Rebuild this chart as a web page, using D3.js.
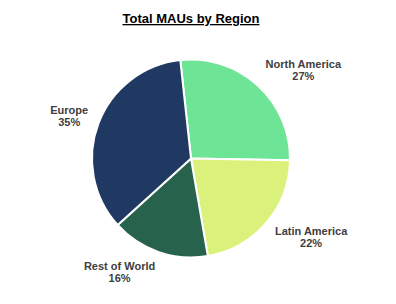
<!DOCTYPE html>
<html>
<head>
<meta charset="utf-8">
<script src="https://cdnjs.cloudflare.com/ajax/libs/d3/7.8.5/d3.min.js"></script>
<style>
  html, body { margin: 0; padding: 0; background: #fff; }
  svg { display: block; font-family: "Liberation Sans", Arial, sans-serif; }
</style>
</head>
<body>
<svg id="chart" width="396" height="304"></svg>
<script>
// chart data
var regions = ["North America", "Latin America", "Rest of World", "Europe"];
var shares = [27, 22, 16, 35];
var colors = ["#6ee497", "#daf27b", "#26624c", "#203963"];

var width = 396, height = 304;
var cx = 191, cy = 158.5, radius = 99;

var svg = d3.select("#chart");

// title, bold and underlined
svg.append("text")
    .attr("x", 191)
    .attr("y", 23)
    .attr("text-anchor", "middle")
    .style("font-size", "13px")
    .style("font-weight", "bold")
    .style("text-decoration", "underline")
    .style("fill", "#000")
    .text("Total MAUs by Region");

var data = regions.map(function(r, i) {
  return { label: r, value: shares[i], color: colors[i] };
});

// start the first slice a little left of twelve o'clock
var pie = d3.pie()
    .sort(null)
    .value(function(d) { return d.value; })
    .startAngle(-6.2 * Math.PI / 180)
    .endAngle(353.8 * Math.PI / 180);

var arc = d3.arc().innerRadius(0).outerRadius(radius);
// labels sit outside, pushed sideways by half their width
var labelArcX = d3.arc().innerRadius(110).outerRadius(110);
var labelArcY = d3.arc().innerRadius(120).outerRadius(120);

var g = svg.append("g").attr("transform", "translate(" + cx + "," + cy + ")");

var arcs = pie(data);

g.selectAll("path.slice")
    .data(arcs)
    .enter().append("path")
    .attr("class", "slice")
    .attr("d", arc)
    .style("fill", function(d) { return d.data.color; })
    .style("stroke", "#fff")
    .style("stroke-width", 2);

var labels = g.selectAll("g.label")
    .data(arcs)
    .enter().append("g")
    .attr("class", "label");

labels.each(function(d) {
  var grp = d3.select(this);
  var t = grp.append("text")
      .attr("text-anchor", "middle")
      .style("font-size", "11px")
      .style("font-weight", "bold")
      .style("fill", "#404040");
  t.append("tspan").attr("x", 0).attr("dy", "-2").text(d.data.label);
  t.append("tspan").attr("x", 0).attr("dy", "12").text(d.data.value + "%");

  var w = t.node().getBBox().width;
  var mid = (d.startAngle + d.endAngle) / 2;
  var px = labelArcX.centroid(d)[0] + (Math.sin(mid) >= 0 ? 1 : -1) * w / 2;
  var py = labelArcY.centroid(d)[1];
  grp.attr("transform", "translate(" + px + "," + py + ")");
});
</script>
</body>
</html>
